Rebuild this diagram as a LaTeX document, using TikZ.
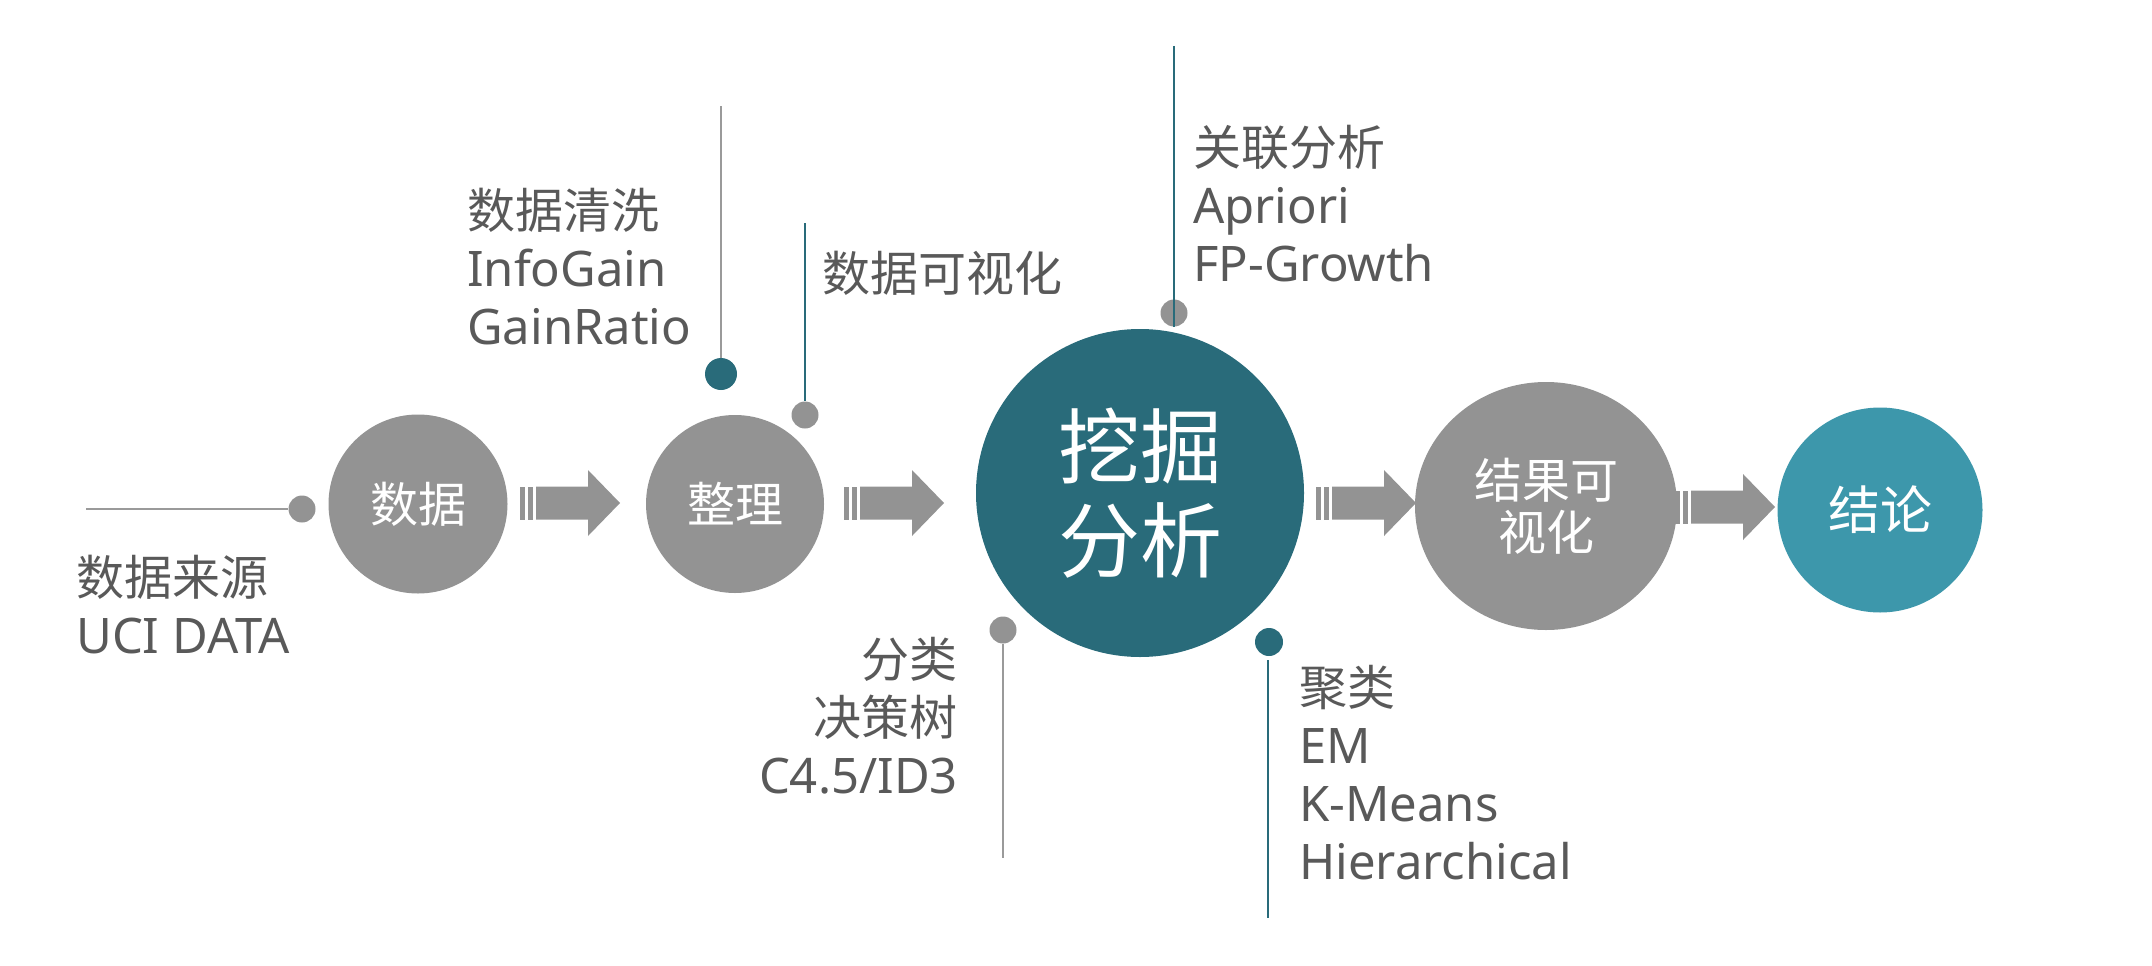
\documentclass[tikz,border=0pt]{standalone}
\usepackage{fontspec}
\setmainfont{Noto Sans}
\newfontfamily\cjk{Noto Sans CJK SC}
\usetikzlibrary{shapes.geometric}
\definecolor{cgray}{HTML}{939393}
\definecolor{cteal}{HTML}{296B7A}
\definecolor{clight}{HTML}{3D97AB}
\definecolor{ctext}{HTML}{595959}
\definecolor{cline}{HTML}{9A9A9A}
\newcommand{\zh}[1]{{\cjk\fontsize{48}{58}\selectfont #1}}
\begin{document}
\begin{tikzpicture}[x=1pt,y=-1pt,
  lbl/.style={inner sep=0pt, text=ctext, font=\fontsize{49}{58}\selectfont},
  stage/.style={circle, inner sep=0pt, text=white, font=\cjk\fontsize{48}{52}\selectfont, align=center},
  dotg/.style={circle, fill=cgray, inner sep=0pt, minimum size=27pt},
  dott/.style={circle, fill=cteal, inner sep=0pt, minimum size=30pt},
  lineg/.style={draw=cline, line width=2pt},
  linet/.style={draw=cteal, line width=2pt},
  fatarrow/.pic={
    \fill[cgray] (0,-16.5) rectangle (5,16.5);
    \fill[cgray] (8,-16.5) rectangle (13,16.5);
    \fill[cgray] (16,-16.5) -- (68,-16.5) -- (68,-33) -- (100,0) -- (68,33) -- (68,16.5) -- (16,16.5) -- cycle;
  }]
\useasboundingbox (0,0) rectangle (2152,966);

% block arrows
\pic at (520,503) {fatarrow};
\pic at (844,503) {fatarrow};
\pic at (1316,503) {fatarrow};
\pic at (1675,507) {fatarrow};

% stages
\node[stage, fill=cgray, minimum size=179pt] (data) at (418,504) {数据};
\node[stage, fill=cgray, minimum size=178pt] (clean) at (735,504) {整理};
\node[stage, fill=cteal, minimum size=328pt, font=\cjk\fontsize{82}{94}\selectfont] (mine) at (1140,493) {挖掘\\分析};
\node[ellipse, inner sep=0pt, text=white, align=center, font=\cjk\fontsize{48}{52}\selectfont,
      fill=cgray, minimum width=262pt, minimum height=248pt] (vis) at (1546,506) {结果可\\视化};
\node[stage, fill=clight, minimum size=205pt, font=\cjk\fontsize{52}{56}\selectfont] (concl) at (1880,510) {结论};

% leader lines and dots
\coordinate (srcend) at (86,509);
\node[dotg] (srcdot) at (302,509) {};
\draw[lineg] (srcend) -- (srcdot);

\coordinate (cleanend) at (721,106);
\node[dott, minimum size=32pt] (cleandot) at (721,374) {};
\draw[lineg] (cleanend) -- (cleandot);

\coordinate (viztop) at (805,223);
\node[dotg] (vizdot) at (805,415) {};
\draw[linet] (viztop) -- (vizdot);

\coordinate (assoctop) at (1174,46);
\node[dotg] (assocdot) at (1174,313) {};
\draw[linet] (assoctop) -- (assocdot.south);

\coordinate (classend) at (1003,858);
\node[dotg] (classdot) at (1003,630) {};
\draw[lineg] (classdot) -- (classend);

\coordinate (clustend) at (1268,918);
\coordinate (clusttop) at (1268,660);
\node[dott, minimum size=28pt] (clustdot) at (1269,642) {};
\draw[linet] (clusttop) -- (clustend);

% labels
\node[lbl, anchor=north west, align=left] (srclbl) at (76,555) {\zh{数据来源}\\UCI DATA};
\node[lbl, anchor=north west, align=left] (cleanlbl) at (467,188) {\zh{数据清洗}\\InfoGain\\GainRatio};
\node[lbl, anchor=north west, align=left] (vizlbl) at (822,251) {\zh{数据可视化}};
\node[lbl, anchor=north west, align=left] (assoclbl) at (1193,125) {\zh{关联分析}\\Apriori\\FP-Growth};
\node[lbl, anchor=north east, align=right] (classlbl) at (958,637) {\zh{分类}\\\zh{决策树}\\C4.5/ID3};
\node[lbl, anchor=north west, align=left] (clustlbl) at (1299,665) {\zh{聚类}\\EM\\K-Means\\Hierarchical};
\end{tikzpicture}
\end{document}
